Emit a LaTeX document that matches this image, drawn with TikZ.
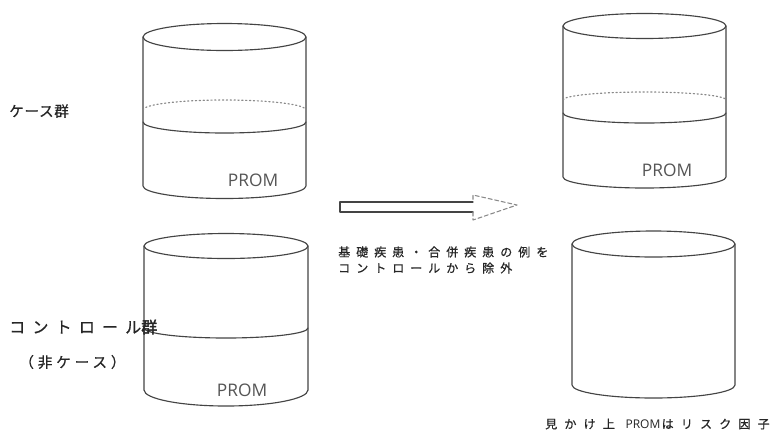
\documentclass[tikz,border=0pt]{standalone}
\usepackage{fontspec}
\setmainfont{Open Sans}
\newfontfamily\jp{Noto Sans CJK JP}
\newcommand\jsp[1]{\addfontfeature{LetterSpace=#1}}
\definecolor{linegray}{HTML}{444444}
\definecolor{backgray}{HTML}{8A8A8A}
\definecolor{textgray}{HTML}{262626}
\definecolor{promgray}{HTML}{555555}
\begin{document}
\begin{tikzpicture}[x=0.75pt,y=-0.75pt,line cap=round,line join=round]
\tikzset{
  cyl/.style={draw=linegray,line width=0.85pt},
  backline/.style={draw=backgray,dotted,line width=0.9pt},
  jlabel/.style={anchor=west,inner sep=0pt,text=textgray},
  promtext/.style={text=promgray,inner sep=0pt,font=\fontsize{13}{15}\selectfont},
  arrowline/.style={draw=linegray,line width=0.8pt},
  headline/.style={draw=backgray,line width=0.8pt,densely dashed}
}
\useasboundingbox (0,0) rectangle (781,437);
\fill[white] (0,0) rectangle (781,437);

% top-left cylinder
\draw[cyl] (224.5,37) ellipse [x radius=81.5, y radius=13.5];
\draw[cyl] (143,37) -- (143,186) arc[start angle=180,end angle=0,x radius=81.5,y radius=12.5] -- (306,37);
\draw[backline] (143,110) arc[start angle=180,end angle=360,x radius=81.5,y radius=10];
\draw[cyl] (143,122) arc[start angle=180,end angle=0,x radius=81.5,y radius=11];
\node[promtext] (p1) at (253,180) {PROM};

% top-right cylinder
\draw[cyl] (644.5,26) ellipse [x radius=81.5, y radius=12.5];
\draw[cyl] (563,26) -- (563,177) arc[start angle=180,end angle=0,x radius=81.5,y radius=11] -- (726,26);
\draw[backline] (563,100) arc[start angle=180,end angle=360,x radius=81.5,y radius=8];
\draw[cyl] (563,113) arc[start angle=180,end angle=0,x radius=81.5,y radius=10];
\node[promtext] (p2) at (667,170) {PROM};

% bottom-left cylinder
\draw[cyl] (226,246) ellipse [x radius=82, y radius=12.5];
\draw[cyl] (144,246) -- (144,390) arc[start angle=180,end angle=0,x radius=82,y radius=16] -- (308,246);
\draw[cyl] (144,328) arc[start angle=180,end angle=0,x radius=82,y radius=10];
\node[promtext] (p3) at (242,390) {PROM};

% bottom-right cylinder
\draw[cyl] (653.5,244) ellipse [x radius=81.5, y radius=13];
\draw[cyl] (572,244) -- (572,385) arc[start angle=180,end angle=0,x radius=81.5,y radius=13] -- (735,244);

% block arrow
\draw[arrowline] (473,202) -- (340,202) -- (340,212) -- (473,212);
\draw[headline] (473,212) -- (473,220) -- (517,205) -- (473,195) -- (473,202);

% labels
\node[jlabel] (case) at (9,111) {\jp\fontsize{11}{13}\selectfont\addfontfeature{FakeBold=0.6}\jsp{4}ケース群};
\node[jlabel] (ctrl) at (9,327) {\jp\fontsize{12}{14}\selectfont\addfontfeature{FakeBold=0.6}\jsp{45}コントロール{\addfontfeature{FakeBold=2.5}群}};
\node[jlabel] (nonc) at (19,362) {\jp\fontsize{11}{13}\selectfont\addfontfeature{FakeBold=0.6}\jsp{26}（非ケース）};
\node[jlabel] (ex1) at (338,252) {\jp\fontsize{9}{11}\selectfont\addfontfeature{FakeBold=0.6}\jsp{50}基礎疾患・合併疾患の例を};
\node[jlabel] (ex2) at (338,268) {\jp\fontsize{9}{11}\selectfont\addfontfeature{FakeBold=0.6}\jsp{50}コントロールから除外};
\node[jlabel] (app) at (545,424) {\jp\fontsize{9}{11}\selectfont\addfontfeature{FakeBold=0.6}{\jsp{60}見かけ上}\hspace{8pt}{\fontspec{Open Sans}PROM}\hspace{1pt}{\jsp{60}はリスク因子}};
\end{tikzpicture}
\end{document}
